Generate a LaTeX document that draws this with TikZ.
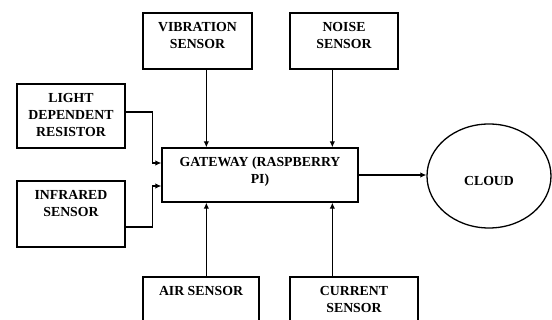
\documentclass[tikz,border=0pt]{standalone}
\usepackage{fontspec}
\setmainfont{Liberation Serif}
\usetikzlibrary{arrows.meta,shapes.geometric}
\tikzset{
  sfont/.style={font=\bfseries\fontsize{13.8}{16.8}\selectfont},
  sbox/.style={draw, line width=1.3pt, inner sep=0pt, sfont},
  arr/.style={line width=1.3pt, -{Latex[length=6pt,width=5.5pt]}},
}
\newcommand{\boxtext}[3]{\parbox[c][#2][t]{#1}{\centering\rule{0pt}{18.5pt}#3\par}}
\begin{document}
\begin{tikzpicture}[x=1pt,y=-1pt]
\useasboundingbox (0,0) rectangle (552,320);
\clip (0,0) rectangle (552,320);
\node[sbox] (vib) at (197.5,41) {\boxtext{109pt}{56pt}{VIBRATION\\SENSOR}};
\node[sbox] (noise) at (344,41) {\boxtext{108pt}{56pt}{NOISE\\SENSOR}};
\node[sbox] (ldr) at (71,116) {\boxtext{108pt}{64pt}{LIGHT\\DEPENDENT\\RESISTOR}};
\node[sbox] (ir) at (71,214) {\boxtext{108pt}{66pt}{INFRARED\\SENSOR}};
\node[sbox] (gw) at (260,175) {\boxtext{196pt}{54pt}{GATEWAY (RASPBERRY\\PI)}};
\node[sbox] (air) at (201,307) {\boxtext{116pt}{60pt}{AIR SENSOR}};
\node[sbox] (cur) at (354,307) {\boxtext{128pt}{60pt}{CURRENT\\SENSOR}};
\node[draw, ellipse, line width=1.3pt, minimum width=124pt, minimum height=104pt, inner sep=0pt] (cloud) at (489,176) {};
\node[sfont, inner sep=0pt] (cloudtxt) at ([yshift=-5pt]cloud.center) {CLOUD};
\coordinate (gA) at ([xshift=45pt]gw.north west);
\coordinate (gB) at ([xshift=171pt]gw.north west);
\coordinate (gC) at ([xshift=45pt]gw.south west);
\coordinate (gD) at ([xshift=171pt]gw.south west);
\draw[arr] (vib.south -| gA) -- (gA);
\draw[arr] (noise.south -| gB) -- (gB);
\draw[arr] (air.north -| gC) -- (gC);
\draw[arr] (cur.north -| gD) -- (gD);
\draw[arr] ([yshift=4pt]ldr.east) -- ++(27,0) |- ([yshift=12pt]gw.west);
\draw[arr] ([yshift=-13pt]ir.east) -- ++(27,0) |- ([yshift=-11pt]gw.west);
\draw[arr] (gw.east) -- (gw.east -| cloud.west);
\end{tikzpicture}
\end{document}
